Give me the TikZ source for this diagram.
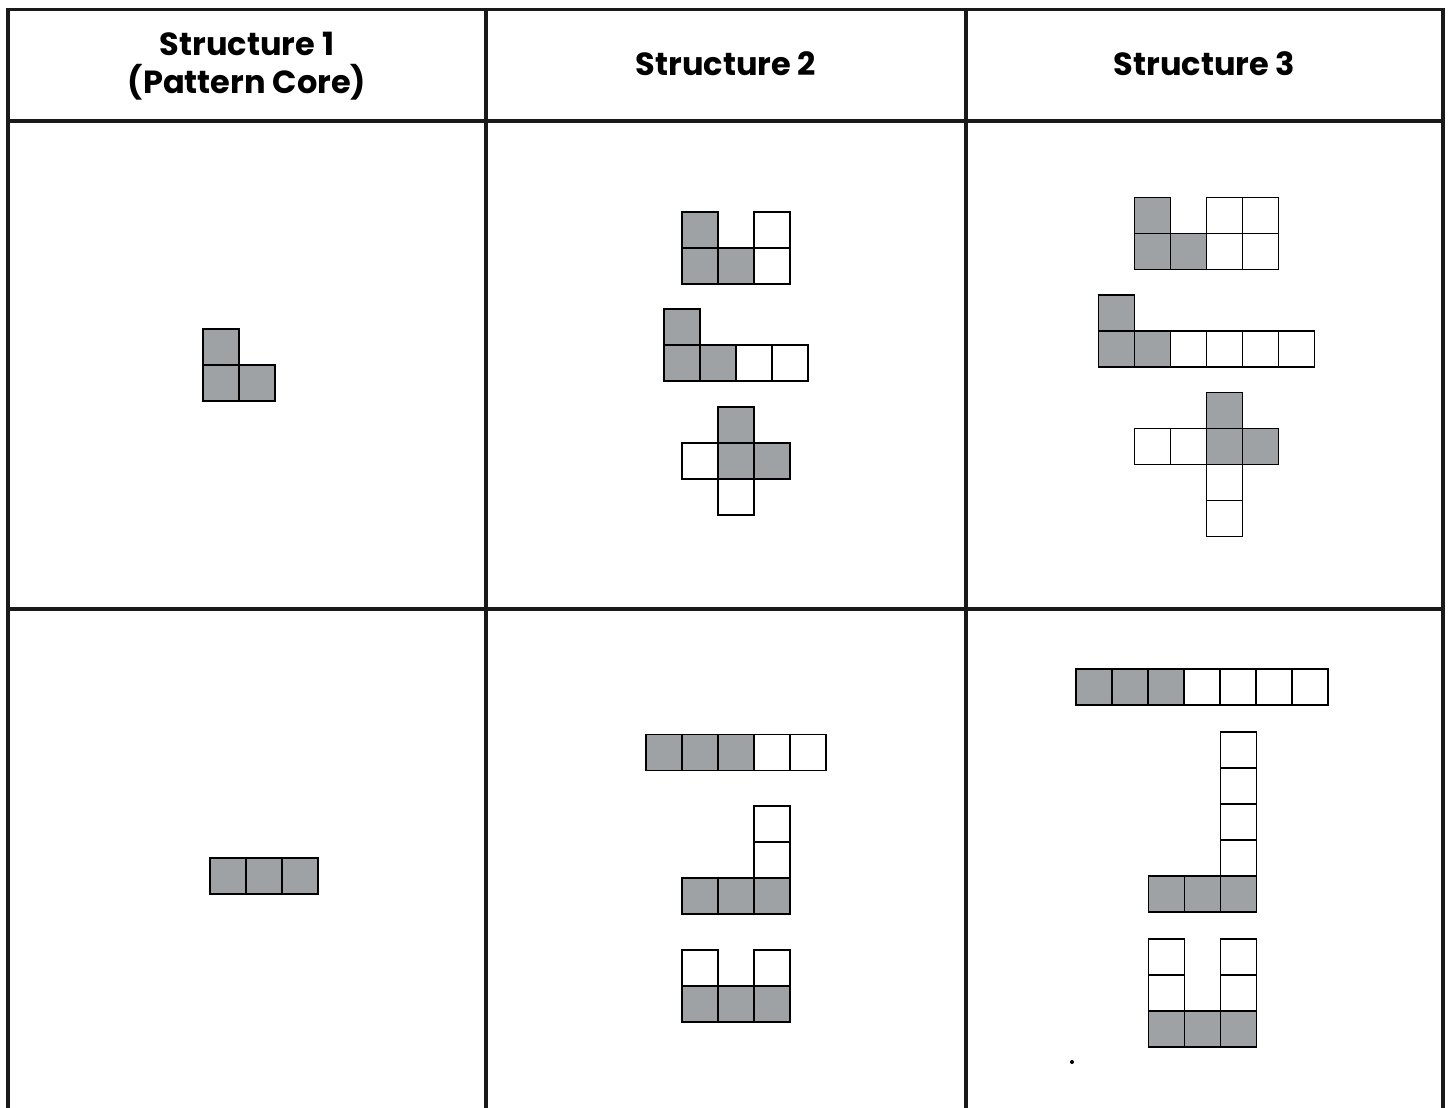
\documentclass[tikz,border=0pt]{standalone}
\usepackage{fontspec}
\newfontfamily\hfont{Poppins}
\definecolor{sqgrey}{RGB}{158,162,164}
\tikzset{
  tableline/.style={line width=3.2pt, draw=black!90},
  greysq/.style={fill=sqgrey, draw=black, line width=1.6pt},
  whitesq/.style={fill=white, draw=black, line width=1.6pt},
  headtext/.style={font=\hfont\bfseries\fontsize{32}{38}\selectfont, align=center, inner sep=0pt}
}
\newcommand\gsq[3]{\begin{scope}[shift={(#1,#2)}]\foreach \c/\r in {#3} {\draw[greysq] (\c*36,\r*36) rectangle ++(36,36);}\end{scope}}
\newcommand\wsq[3]{\begin{scope}[shift={(#1,#2)}]\foreach \c/\r in {#3} {\draw[whitesq] (\c*36,\r*36) rectangle ++(36,36);}\end{scope}}
\begin{document}
\begin{tikzpicture}[x=1pt,y=-1pt]
\useasboundingbox (0,0) rectangle (1449,1108);
\fill[white] (0,0) rectangle (1449,1108);
% table
\draw[tableline] (8,1108) -- (8,9.5) -- (1443,9.5) -- (1443,1108);
\draw[tableline] (486,9.5) -- (486,1108);
\draw[tableline] (966,9.5) -- (966,1108);
\draw[tableline] (8,121) -- (1443,121);
\draw[tableline] (8,609) -- (1443,609);
% headers
\node[headtext] (h1) at (247,66) {Structure 1\\(Pattern Core)};
\node[headtext] (h2) at (726,64) {Structure 2};
\node[headtext] (h3) at (1204.5,64) {Structure 3};
% row 1, structure 1
\gsq{203}{329}{0/0,0/1,1/1}
% row 1, structure 2
\wsq{682}{212}{2/0,2/1}
\gsq{682}{212}{0/0,0/1,1/1}
\wsq{664}{309}{2/1,3/1}
\gsq{664}{309}{0/0,0/1,1/1}
\wsq{682}{407}{0/1,1/2}
\gsq{682}{407}{1/0,1/1,2/1}
% row 1, structure 3
\wsq{1134.5}{197.5}{2/0,3/0,2/1,3/1}
\gsq{1134.5}{197.5}{0/0,0/1,1/1}
\wsq{1098.5}{295}{2/1,3/1,4/1,5/1}
\gsq{1098.5}{295}{0/0,0/1,1/1}
\wsq{1134.5}{392.5}{0/1,1/1,2/2,2/3}
\gsq{1134.5}{392.5}{2/0,2/1,3/1}
% row 2, structure 1
\gsq{210}{858}{0/0,1/0,2/0}
% row 2, structure 2
\wsq{646}{734.5}{3/0,4/0}
\gsq{646}{734.5}{0/0,1/0,2/0}
\wsq{682}{806}{2/0,2/1}
\gsq{682}{806}{0/2,1/2,2/2}
\wsq{682}{950}{0/0,2/0}
\gsq{682}{950}{0/1,1/1,2/1}
% row 2, structure 3
\wsq{1076}{669}{3/0,4/0,5/0,6/0}
\gsq{1076}{669}{0/0,1/0,2/0}
\wsq{1148.5}{732}{2/0,2/1,2/2,2/3}
\gsq{1148.5}{732}{0/4,1/4,2/4}
\wsq{1148.5}{939}{0/0,2/0,0/1,2/1}
\gsq{1148.5}{939}{0/2,1/2,2/2}
\fill[black] (1072,1062) circle (2);
\end{tikzpicture}
\end{document}
